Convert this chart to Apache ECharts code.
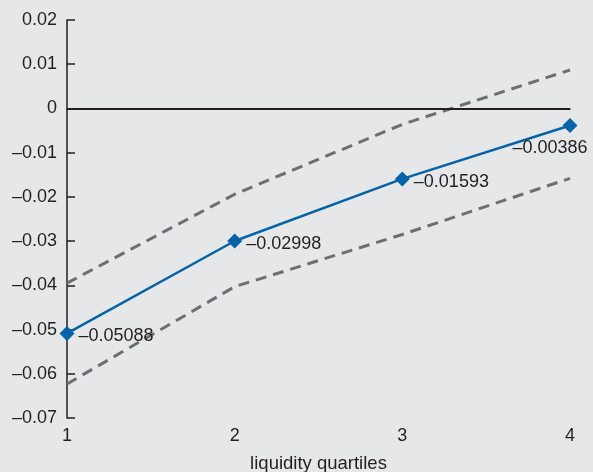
<!DOCTYPE html>
<html>
<head>
<meta charset="utf-8">
<script src="https://cdn.jsdelivr.net/npm/echarts@6/dist/echarts.min.js"></script>
<style>
html,body{margin:0;padding:0;background:#e6e7e8;}
#chart{width:593px;height:472px;}
</style>
</head>
<body>
<div id="chart"></div>
<script>
const categories = ['1', '2', '3', '4'];
const estimate = [-0.05088, -0.02998, -0.01593, -0.00386];
const upperBound = [-0.0395, -0.0194, -0.0036, 0.0087];
const lowerBound = [-0.0623, -0.0403, -0.0285, -0.0158];
const yTicks = { min: -0.07, max: 0.02, interval: 0.01 };
const xTitle = 'liquidity quartiles';

const fmt = v => {
  if (Math.abs(v) < 1e-9) return '0';
  const s = Math.abs(v).toString();
  return (v < 0 ? '\u2013' : '') + s;
};
const fmtTick = v => {
  const r = Math.round(v * 100) / 100;
  if (Math.abs(r) < 1e-9) return '0';
  return (r < 0 ? '\u2013' : '') + Math.abs(r).toFixed(2);
};

const textColor = '#231f20';
const font = 'Liberation Sans, Arial, sans-serif';
const fs = 18;
const chart = echarts.init(document.getElementById('chart'));
chart.setOption({
  backgroundColor: '#e6e7e8',
  animation: false,
  grid: { left: 67, right: 23, top: 20, bottom: 54, containLabel: false, outerBoundsMode: 'none' },
  xAxis: {
    type: 'category',
    data: categories,
    boundaryGap: false,
    name: xTitle,
    nameLocation: 'middle',
    nameGap: 36,
    nameTextStyle: { color: textColor, fontSize: 18.5, fontFamily: font },
    axisLine: { lineStyle: { color: textColor, width: 1.5 } },
    axisTick: { show: false },
    axisLabel: { color: textColor, fontSize: fs, fontFamily: font, margin: 9 },
    splitLine: { show: false }
  },
  yAxis: {
    type: 'value',
    min: yTicks.min,
    max: yTicks.max,
    interval: yTicks.interval,
    axisLine: { show: true, lineStyle: { color: textColor, width: 1.5 } },
    axisTick: { show: true, inside: true, length: 8, lineStyle: { color: textColor, width: 1.5 } },
    axisLabel: { color: textColor, fontSize: fs, fontFamily: font, margin: 10, formatter: fmtTick },
    splitLine: { show: false }
  },
  series: [
    {
      type: 'line',
      data: upperBound,
      symbol: 'none',
      lineStyle: { color: '#6d6e71', width: 3, type: [11, 7] },
      z: 2
    },
    {
      type: 'line',
      data: lowerBound,
      symbol: 'none',
      lineStyle: { color: '#6d6e71', width: 3, type: [11, 7] },
      z: 2
    },
    {
      type: 'line',
      data: estimate.map((v, i) => ({
        value: v,
        label: i === 3
          ? { position: 'bottom', offset: [-20, 2] }
          : { position: 'right', offset: [0, 3] }
      })),
      symbol: 'diamond',
      symbolSize: 15,
      itemStyle: { color: '#0563a7' },
      lineStyle: { color: '#0563a7', width: 2.5 },
      label: {
        show: true,
        color: textColor,
        fontSize: fs,
        fontFamily: font,
        distance: 4,
        formatter: p => fmt(p.value)
      },
      markLine: {
        silent: true,
        symbol: 'none',
        label: { show: false },
        lineStyle: { color: textColor, width: 2, type: 'solid' },
        data: [{ yAxis: 0 }]
      },
      z: 3
    }
  ]
});
</script>
</body>
</html>
